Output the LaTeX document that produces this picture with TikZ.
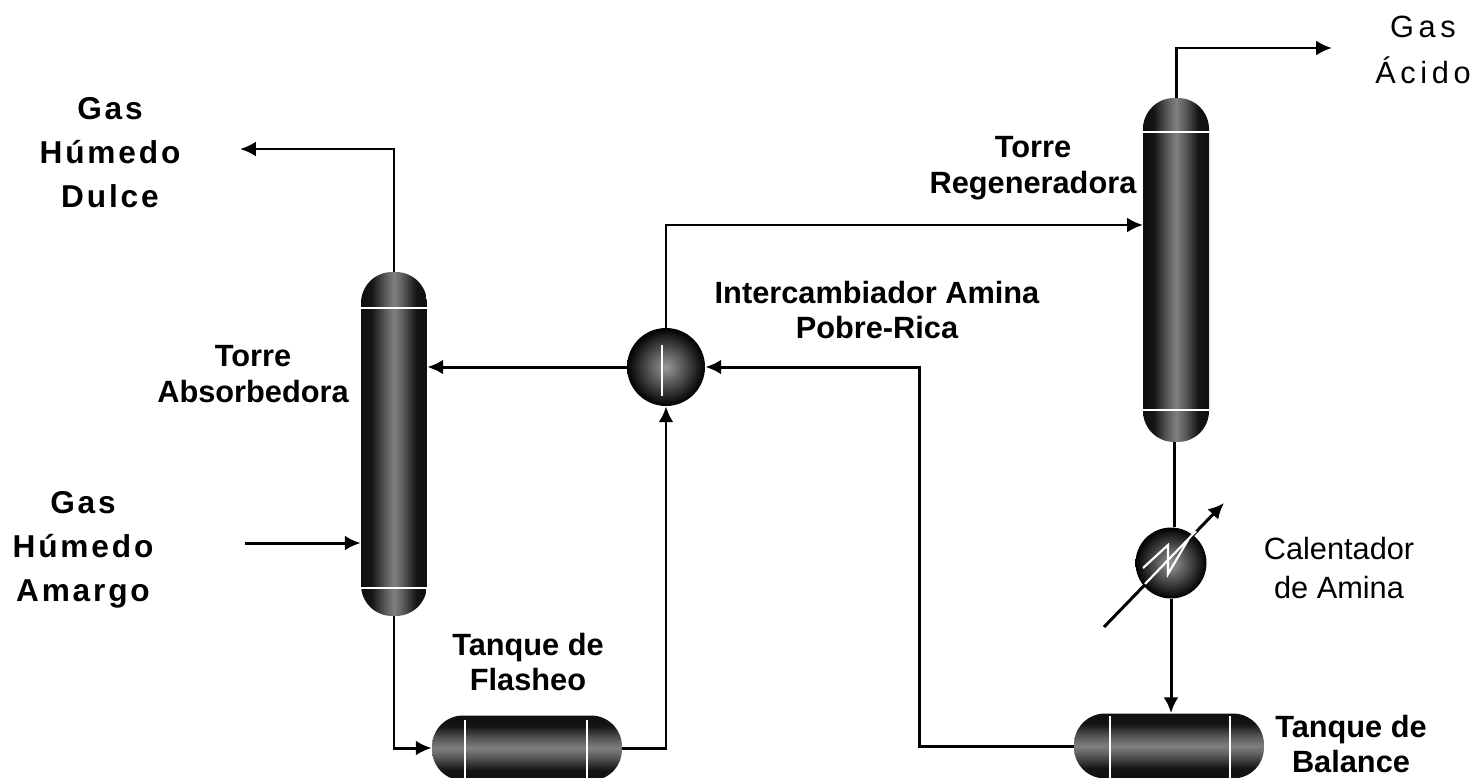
\documentclass[tikz,border=0pt]{standalone}
\usepackage{fontspec}
\usepackage{xcolor}
\usepackage{tikz}
\setmainfont{Liberation Sans}
\newfontfamily\gasfont[LetterSpace=9]{Liberation Sans}
\newfontfamily\acidofont[LetterSpace=15]{Liberation Sans}
\usetikzlibrary{shapes,arrows.meta,positioning}
\pgfdeclarehorizontalshading{vesselfill}{100bp}{color(0bp)=(black);color(33bp)=(black!92);color(43bp)=(black!65);color(50bp)=(black!50);color(57bp)=(black!65);color(67bp)=(black!92);color(100bp)=(black)}

\begin{document}
\begin{tikzpicture}[x=0.02cm,y=-0.02cm]
  \tikzstyle{tower} = [rectangle, rounded corners=0.62cm, shading=vesselfill, minimum width=1.32cm, minimum height=6.88cm, inner sep=0pt]
  \tikzstyle{tank} = [rectangle, rounded corners=0.62cm, shading=vesselfill, shading angle=90, minimum width=3.8cm, minimum height=1.3cm, inner sep=0pt]
  \tikzstyle{exchanger} = [circle, shading=radial, inner color=gray!80, outer color=black, inner sep=0pt]
  \tikzstyle{label} = [align=center, inner sep=0pt, font=\fontsize{17.5pt}{20.3pt}\selectfont\bfseries]
  \tikzstyle{thin label} = [align=center, inner sep=0pt, font=\fontsize{17.5pt}{22pt}\selectfont]
  \tikzstyle{gas label} = [align=center, inner sep=0pt, font=\fontsize{18pt}{25pt}\selectfont\gasfont\bfseries]
  \tikzstyle{pipe} = [draw, line width=1.7pt]
  \tikzstyle{line} = [draw, -{Latex[length=9pt,width=8.5pt]}, line width=1.7pt]
  \tikzstyle{detail} = [draw=white, line width=1.2pt]

  \useasboundingbox (0,0) rectangle (1475,778);

  % Free ends
  \coordinate (dulce) at (240,149);
  \coordinate (amargo) at (245,543);
  \coordinate (acido) at (1332,48);
  \coordinate (regenin) at (1143,225);
  \coordinate (regenout) at (1174,442);
  \coordinate (bend) at (919,367);
  \coordinate (heatin) at (1104,627);
  \coordinate (heatout) at (1224,503);

  % Heating line goes under the heater
  \draw[line] (heatin) -- (heatout);

  % Vessels
  \node[tower] (abs) at (394,444) {};
  \node[tower] (regen) at (1176,270) {};
  \node[tank] (flash) at (527,748) {};
  \node[tank] (bal) at (1169,746) {};
  \node[exchanger, minimum size=1.56cm] (exch) at (666,367) {};
  \node[exchanger, minimum size=1.42cm] (heat) at (1171,563) {};

  % White marks on the vessels
  \draw[detail] (abs.west |- 0,308) -- (abs.east |- 0,308);
  \draw[detail] (abs.west |- 0,588) -- (abs.east |- 0,588);
  \draw[detail] (regen.west |- 0,132) -- (regen.east |- 0,132);
  \draw[detail] (regen.west |- 0,410) -- (regen.east |- 0,410);
  \draw[detail] (465,720) -- (465,778);
  \draw[detail] (587,720) -- (587,778);
  \draw[detail] (1110,716) -- (1110,778);
  \draw[detail] (1230,716) -- (1230,778);
  \draw[detail] (662,345) -- (662,396);
  \draw[detail] (1145,584) -- (1196,531);
  \draw[detail] (1143,568) -- (1168,545) -- (1168,574) -- (1188,540);

  % Main flow
  \draw[line] (abs.north) |- (dulce);
  \draw[line] (amargo) -- (abs.west |- amargo);
  \draw[line] (abs.south) |- (flash.west);
  \draw[line] (flash.east) -| (exch.south);
  \draw[line] (exch.west) -- (abs.east |- exch.west);
  \draw[line] (exch.north) |- (regenin);
  \draw[line] (regen.north) |- (acido);
  \draw[pipe] (regenout) -- (regenout |- heat.north);
  \draw[line] (heat.south) -- (heat.south |- bal.north);
  \draw[line] (bal.west) -| (bend) -- (exch.east);

  % Labels
  \node[gas label] (lbldulce) at (110,153) {Gas\\Húmedo\\Dulce};
  \node[gas label] (lblamargo) at (83,550) {Gas\\Húmedo\\Amargo};
  \node[label] (lblabs) at (253,374) {Torre\\Absorbedora};
  \node[label] (lblregen) at (1033,168) {Torre\\Regeneradora};
  \node[label] (lblexch) at (877,310) {Intercambiador Amina\\Pobre-Rica};
  \node[label] (lblflash) at (528,662) {Tanque de\\Flasheo};
  \node[label] (lblbal) at (1351,744) {Tanque de\\Balance};
  \node[thin label] (lblheat) at (1339,568) {Calentador\\de Amina};
  \node[thin label, font=\fontsize{17.5pt}{26pt}\selectfont\acidofont] (lblacido) at (1423,50) {Gas\\Ácido};
\end{tikzpicture}
\end{document}
